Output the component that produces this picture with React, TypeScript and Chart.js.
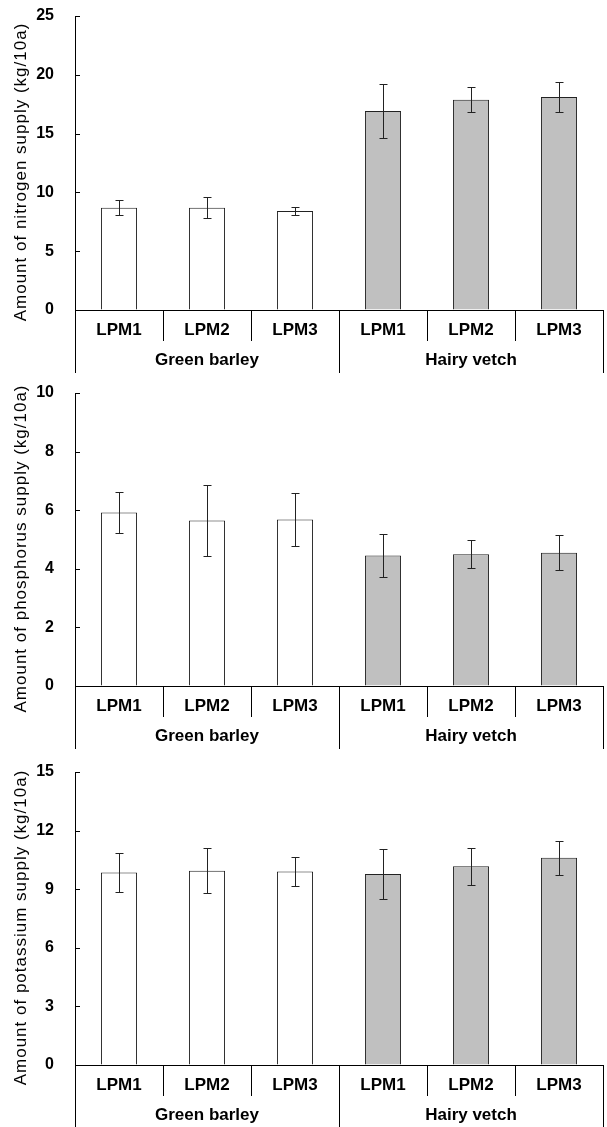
import React, { useEffect, useRef } from "react";
import { Chart, registerables } from "chart.js";

Chart.register(...registerables);

const categories = ["LPM1", "LPM2", "LPM3", "LPM1", "LPM2", "LPM3"];
const groups = ["Green barley", "Hairy vetch"];
const groupOfCategory = [0, 0, 0, 1, 1, 1];
const groupColors = ["#ffffff", "#c0c0c0"];

const nitrogenValues = [8.69, 8.69, 8.41, 16.93, 17.87, 18.12];
const nitrogenErrors = [0.65, 0.9, 0.35, 2.28, 1.07, 1.27];
const phosphorusValues = [5.92, 5.65, 5.68, 4.45, 4.5, 4.55];
const phosphorusErrors = [0.71, 1.2, 0.91, 0.73, 0.47, 0.6];
const potassiumValues = [9.85, 9.95, 9.9, 9.78, 10.17, 10.61];
const potassiumErrors = [0.99, 1.15, 0.73, 1.27, 0.96, 0.87];

const nitrogenTicks = { max: 25, step: 5 };
const phosphorusTicks = { max: 10, step: 2 };
const potassiumTicks = { max: 15, step: 3 };

const FONT = "'Liberation Sans', Arial, sans-serif";

type PanelProps = {
  top: number;
  height: number;
  zeroY: number;
  topPad: number;
  values: number[];
  errors: number[];
  yMax: number;
  yStep: number;
  title: string;
};

function Panel(props: PanelProps) {
  const ref = useRef<HTMLCanvasElement | null>(null);
  useEffect(() => {
    const canvas = ref.current;
    if (!canvas) return;
    const { values, errors, yMax, yStep, title, height, zeroY, topPad } = props;

    const decorPlugin = {
      id: "decor",
      afterDatasetsDraw(chart: any) {
        const ctx = chart.ctx;
        const ys = chart.scales.y;
        ctx.save();
        const meta = chart.getDatasetMeta(0);
        ctx.strokeStyle = "#222";
        ctx.lineWidth = 1;
        meta.data.forEach((el: any, i: number) => {
          const x = Math.round(el.x) + 0.5;
          const yTop = Math.round(ys.getPixelForValue(values[i] + errors[i])) + 0.5;
          const yBot = Math.round(ys.getPixelForValue(values[i] - errors[i])) + 0.5;
          ctx.beginPath();
          ctx.moveTo(x, yTop);
          ctx.lineTo(x, yBot);
          ctx.moveTo(x - 4, yTop);
          ctx.lineTo(x + 4, yTop);
          ctx.moveTo(x - 4, yBot);
          ctx.lineTo(x + 4, yBot);
          ctx.stroke();
        });
        ctx.restore();
      },
      afterDraw(chart: any) {
        const ctx = chart.ctx;
        const xs = chart.scales.x;
        const ys = chart.scales.y;
        const area = chart.chartArea;
        ctx.save();
        ctx.strokeStyle = "#000";
        ctx.lineWidth = 1;
        ys.ticks.forEach((t: any) => {
          const y = Math.round(ys.getPixelForValue(t.value)) + 0.5;
          ctx.beginPath();
          ctx.moveTo(area.left, y);
          ctx.lineTo(area.left + 5, y);
          ctx.stroke();
        });
        const half = (xs.getPixelForValue(1) - xs.getPixelForValue(0)) / 2;
        const n = categories.length;
        for (let i = 0; i <= n; i++) {
          const x =
            Math.round(i < n ? xs.getPixelForValue(i) - half : xs.getPixelForValue(n - 1) + half) + 0.5;
          const isGroupEdge =
            i === 0 || i === n || groupOfCategory[i] !== groupOfCategory[i - 1];
          const len = isGroupEdge ? 63 : 31;
          ctx.beginPath();
          ctx.moveTo(x, area.bottom);
          ctx.lineTo(x, area.bottom + len);
          ctx.stroke();
        }
        ctx.fillStyle = "#000";
        ctx.font = `bold 17px ${FONT}`;
        ctx.textAlign = "center";
        ctx.textBaseline = "alphabetic";
        groups.forEach((g, gi) => {
          const idx = groupOfCategory
            .map((v, i) => (v === gi ? i : -1))
            .filter((i) => i >= 0);
          const x0 = xs.getPixelForValue(idx[0]) - half;
          const x1 = xs.getPixelForValue(idx[idx.length - 1]) + half;
          ctx.fillText(g, (x0 + x1) / 2, area.bottom + 55);
        });
        ctx.font = `17px ${FONT}`;
        (ctx as any).letterSpacing = "1px";
        ctx.translate(21, (area.top + area.bottom) / 2 + 9);
        ctx.rotate(-Math.PI / 2);
        ctx.textBaseline = "middle";
        ctx.fillText(title, 0, 0);
        ctx.restore();
      },
    };

    const chart = new Chart(canvas, {
      type: "bar",
      data: {
        labels: categories,
        datasets: [
          {
            data: values,
            backgroundColor: categories.map((_, i) => groupColors[groupOfCategory[i]]),
            borderColor: "#222",
            borderWidth: 1,
            borderSkipped: "start",
            barPercentage: 0.41,
            categoryPercentage: 1,
          },
        ],
      },
      options: {
        animation: false,
        responsive: false,
        maintainAspectRatio: false,
        devicePixelRatio: 1,
        layout: { padding: { top: topPad, right: 4, left: 0, bottom: 0 } },
        plugins: { legend: { display: false }, tooltip: { enabled: false } },
        scales: {
          x: {
            type: "category",
            offset: true,
            grid: { display: true, drawOnChartArea: false, drawTicks: false },
            border: { display: true, color: "#000", width: 1 },
            ticks: {
              font: { family: FONT, size: 17, weight: "bold" },
              color: "#000",
              padding: 10,
              maxRotation: 0,
              autoSkip: false,
            },
            afterFit: (s: any) => {
              s.height = height - zeroY;
            },
          },
          y: {
            min: 0,
            max: yMax,
            ticks: {
              stepSize: yStep,
              font: { family: FONT, size: 16, weight: "bold" },
              color: "#000",
              padding: 0,
            },
            grid: {
              display: true,
              drawOnChartArea: false,
              drawTicks: true,
              tickLength: 21,
              tickColor: "rgba(0,0,0,0)",
            },
            border: { display: true, color: "#000", width: 1 },
            afterFit: (s: any) => {
              s.width = 75;
            },
          },
        },
      },
      plugins: [decorPlugin],
    } as any);
    return () => chart.destroy();
  }, []);
  return (
    <canvas
      ref={ref}
      width={607}
      height={props.height}
      style={{ position: "absolute", left: 0, top: props.top, width: 607, height: props.height, display: "block" }}
    />
  );
}

export default function App() {
  return (
    <div
      style={{
        position: "absolute",
        left: 0,
        top: 0,
        width: 607,
        height: 1127,
        overflow: "hidden",
        background: "#fff",
      }}
    >
      <Panel
        top={0}
        height={375}
        zeroY={310}
        topPad={16}
        values={nitrogenValues}
        errors={nitrogenErrors}
        yMax={nitrogenTicks.max}
        yStep={nitrogenTicks.step}
        title="Amount of nitrogen supply (kg/10a)"
      />
      <Panel
        top={376}
        height={377}
        zeroY={310}
        topPad={17}
        values={phosphorusValues}
        errors={phosphorusErrors}
        yMax={phosphorusTicks.max}
        yStep={phosphorusTicks.step}
        title="Amount of phosphorus supply (kg/10a)"
      />
      <Panel
        top={755}
        height={372}
        zeroY={310}
        topPad={17}
        values={potassiumValues}
        errors={potassiumErrors}
        yMax={potassiumTicks.max}
        yStep={potassiumTicks.step}
        title="Amount of potassium supply (kg/10a)"
      />
    </div>
  );
}
